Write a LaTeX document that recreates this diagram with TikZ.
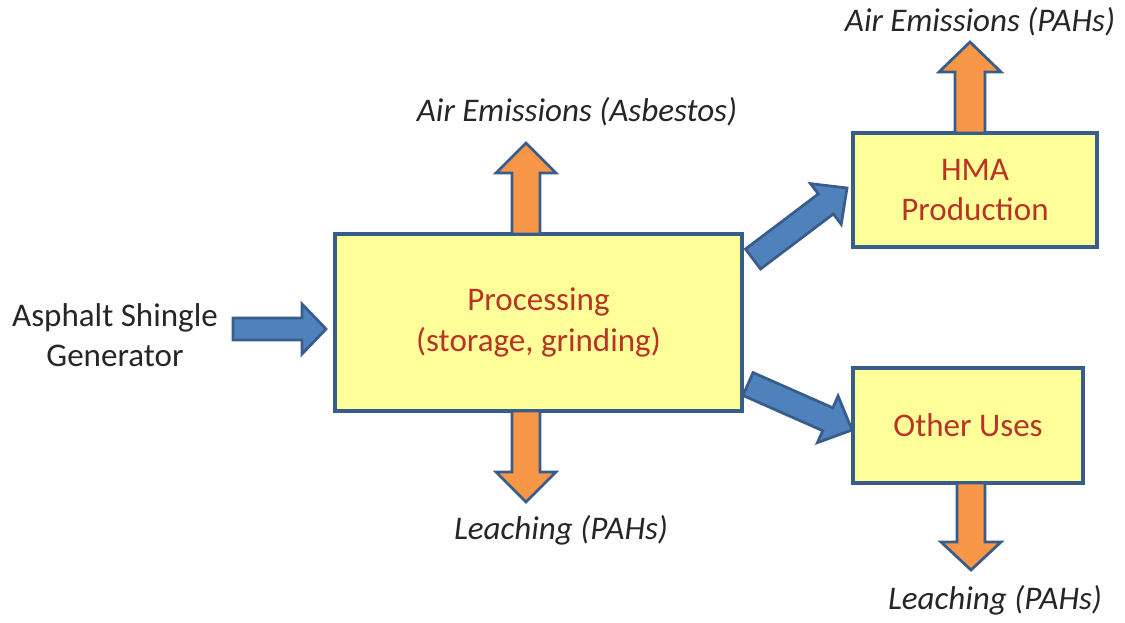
\documentclass[tikz,border=0pt]{standalone}
\usepackage{fontspec}
\setmainfont{Carlito}
\usetikzlibrary{calc}

\definecolor{boxfill}{HTML}{FFFF99}
\definecolor{boxline}{HTML}{385D8A}
\definecolor{flowblue}{HTML}{4F81BD}
\definecolor{flowor}{HTML}{F79646}
\definecolor{txtred}{RGB}{185,52,38}

\tikzset{
  stage/.style={draw=boxline, fill=boxfill, line width=0.07cm, inner sep=0pt, outer sep=0pt,
    text=txtred, align=center, font=\fontsize{18.8}{23}\selectfont},
  flow/.style={draw=boxline, fill=flowblue, line width=0.055cm, line join=miter},
  release/.style={draw=boxline, fill=flowor, line width=0.055cm, line join=miter},
  label/.style={font=\fontsize{18.8}{23}\selectfont\itshape, text=black!85},
}

% block arrow: style, from, to, shaft half width, head half width, head length
\newcommand\blockarrow[6]{%
  \coordinate (hb) at ($(#3)!#6!(#2)$);
  \filldraw[#1] ($(#2)!#4!90:(#3)$) -- ($(hb)!#4!90:(#3)$) -- ($(hb)!#5!90:(#3)$) -- (#3)
    -- ($(hb)!#5!-90:(#3)$) -- ($(hb)!#4!-90:(#3)$) -- ($(#2)!#4!-90:(#3)$) -- cycle;
}

\begin{document}
\begin{tikzpicture}[x=0.02cm, y=-0.02cm]
                \useasboundingbox (0,0) rectangle (1125,622);
                % boxes
                \node[stage, minimum width=8.14cm, minimum height=3.54cm] (proc) at (538.5,322.5) {Processing\\(storage, grinding)};
                \node[stage, minimum width=4.88cm, minimum height=2.28cm] (hma) at (975,190) {HMA\\Production};
                \node[stage, minimum width=4.6cm, minimum height=2.3cm] (other) at (968,425.5) {Other Uses};
                \node[align=center, font=\fontsize{18.8}{23}\selectfont, text=black!85] (gen) at (115,335) {Asphalt Shingle\\Generator};
                % texts at the free ends
                \node[label] (air1) at (577,112) {Air Emissions (Asbestos)};
                \node[label] (leach1) at (561,530) {Leaching (PAHs)};
                \node[label] (air2) at (980,22) {Air Emissions (PAHs)};
                \node[label] (leach2) at (995,600) {Leaching (PAHs)};
                % arrow ends
                \coordinate (in1) at (233,329);
                \coordinate (in2) at (326,329);
                \coordinate (air1tip) at (526,143);
                \coordinate (leach1tip) at (526,502);
                \coordinate (up1) at (753,259);
                \coordinate (up2) at (847,188);
                \coordinate (dn1) at (748,384);
                \coordinate (dn2) at (852,430);
                \coordinate (air2tip) at (970,42);
                \coordinate (leach2tip) at (971,570);
                % arrows
                \blockarrow{flow}{in1}{in2}{0.22cm}{0.5cm}{0.48cm}
                \blockarrow{flow}{up1}{up2}{0.25cm}{0.51cm}{0.53cm}
                \blockarrow{flow}{dn1}{dn2}{0.25cm}{0.51cm}{0.53cm}
                \blockarrow{release}{proc.north -| air1tip}{air1tip}{0.28cm}{0.6cm}{0.6cm}
                \blockarrow{release}{proc.south -| leach1tip}{leach1tip}{0.28cm}{0.6cm}{0.6cm}
                \blockarrow{release}{hma.north -| air2tip}{air2tip}{0.3cm}{0.62cm}{0.6cm}
                \blockarrow{release}{other.south -| leach2tip}{leach2tip}{0.28cm}{0.6cm}{0.56cm}
            \end{tikzpicture}
\end{document}
